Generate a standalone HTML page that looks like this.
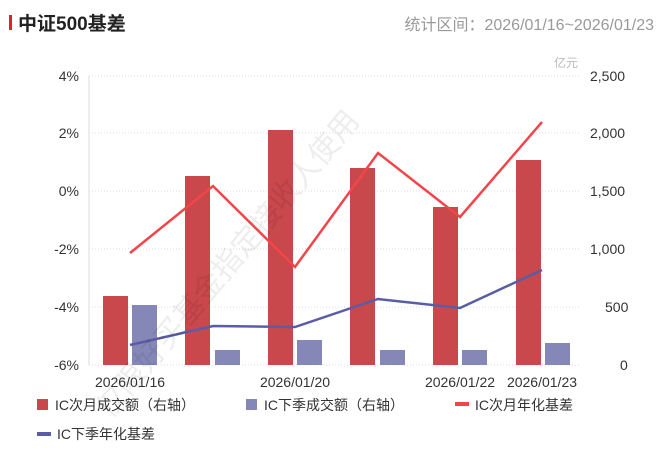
<!DOCTYPE html>
<html><head><meta charset="utf-8"><style>
body{margin:0;background:#fff;width:663px;height:453px;overflow:hidden;font-family:"Liberation Sans","Noto Sans CJK SC",sans-serif;}
</style></head><body>
<svg width="663" height="453" xmlns="http://www.w3.org/2000/svg" font-family="Liberation Sans, Noto Sans CJK SC, sans-serif">
<rect x="9" y="15" width="3" height="15" fill="#d9262c"/>
<text x="18" y="30" font-size="19" font-weight="bold" fill="#222">中证500基差</text>
<text x="654" y="30" font-size="16" fill="#999" text-anchor="end">统计区间：2026/01/16~2026/01/23</text>
<text x="578" y="67" font-size="12" fill="#bbb" text-anchor="end">亿元</text>
<g stroke="#ddd" stroke-dasharray="1,2" stroke-width="1">
<line x1="89" x2="580" y1="76" y2="76"/><line x1="89" x2="580" y1="133" y2="133"/>
<line x1="89" x2="580" y1="191" y2="191"/><line x1="89" x2="580" y1="249" y2="249"/>
<line x1="89" x2="580" y1="307" y2="307"/><line x1="89" x2="580" y1="365" y2="365"/>
</g>
<line x1="89" y1="76" x2="89" y2="365" stroke="#ddd"/>
<g font-size="14" fill="#333" text-anchor="end">
<text x="79" y="81">4%</text><text x="79" y="138">2%</text><text x="79" y="196">0%</text>
<text x="79" y="254">-2%</text><text x="79" y="312">-4%</text><text x="79" y="370">-6%</text>
</g>
<g font-size="14" fill="#333" text-anchor="start">
<text x="590" y="81">2,500</text><text x="590" y="138">2,000</text><text x="590" y="196">1,500</text>
<text x="590" y="254">1,000</text><text x="605" y="312">500</text><text x="620" y="370">0</text>
</g>
<g fill="#c8484b">
<rect x="103" y="296" width="25" height="69"/><rect x="185" y="176" width="25" height="189"/>
<rect x="268" y="130" width="25" height="235"/><rect x="350" y="168" width="25" height="197"/>
<rect x="433" y="207" width="25" height="158"/><rect x="516" y="160" width="25" height="205"/>
</g>
<g fill="#8587b7">
<rect x="132" y="305" width="25" height="60"/><rect x="215" y="350" width="25" height="15"/>
<rect x="297" y="340" width="25" height="25"/><rect x="380" y="350" width="25" height="15"/>
<rect x="462" y="350" width="25" height="15"/><rect x="545" y="343" width="25" height="22"/>
</g>
<polyline points="130,253 213,186 295,267 378,153 460,217 542,122" fill="none" stroke="#f2454a" stroke-width="2.5"/>
<polyline points="130,345 213,326 295,327 378,299 460,308 542,270" fill="none" stroke="#5a5da6" stroke-width="2.5"/>
<g font-size="14" fill="#333" text-anchor="middle">
<text x="130" y="387">2026/01/16</text><text x="295" y="387">2026/01/20</text>
<text x="460" y="387">2026/01/22</text><text x="542" y="387">2026/01/23</text>
</g>
<g font-size="14" fill="#333">
<rect x="37" y="399" width="11" height="11" fill="#c8484b"/><text x="55" y="410">IC次月成交额（右轴）</text>
<rect x="246" y="399" width="11" height="11" fill="#8587b7"/><text x="264" y="410">IC下季成交额（右轴）</text>
<rect x="455" y="402" width="14" height="4" fill="#f2454a"/><text x="475" y="410">IC次月年化基差</text>
<rect x="37" y="432" width="14" height="4" fill="#5a5da6"/><text x="57" y="439">IC下季年化基差</text>
</g>
<text x="0" y="0" font-size="30" fill="#000" fill-opacity="0.07" transform="translate(110,420) rotate(-50)">仅限好买基金指定接收人使用</text>
</svg>
</body></html>
